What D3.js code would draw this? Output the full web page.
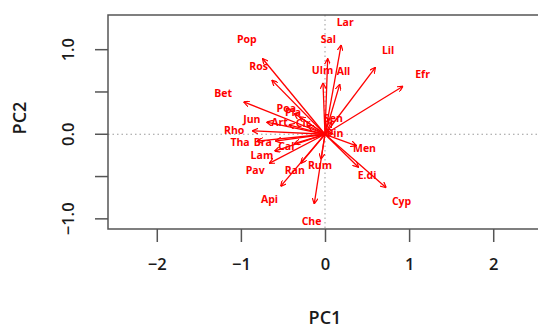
<!DOCTYPE html>
<html>
<head>
<meta charset="utf-8">
<script src="https://cdn.jsdelivr.net/npm/d3@7"></script>
<style>
  body { margin: 0; background: #fff; }
  svg { display: block; }
  text { font-family: "Open Sans", sans-serif; }
</style>
</head>
<body>
<svg id="chart"></svg>
<script>
// variable loadings (label positions, in PC units); arrows drawn at 0.8 like R biplot
const varNames = ['Pop', 'Ros', 'Bet', 'Jun', 'Art', 'Rho', 'Tha', 'Bra', 'Lam', 'Cal',
                  'Pav', 'Ran', 'Api', 'Che', 'Rum', 'Men', 'E.di', 'Cyp', 'Efr', 'Lil',
                  'Lar', 'Sal', 'Ulm', 'All', 'Sen', 'Pin', 'Cir', 'Poa', 'Pla'];
const pc1Load = [-0.93, -0.79, -1.21, -0.87, -0.54, -1.08, -1.01, -0.74, -0.75, -0.46,
                 -0.83, -0.36, -0.66, -0.16, -0.06, 0.47, 0.50, 0.91, 1.16, 0.75,
                 0.24, 0.04, -0.03, 0.22, 0.10, 0.12, -0.26, -0.46, -0.38];
const pc2Load = [1.12, 0.80, 0.48, 0.18, 0.14, 0.05, -0.10, -0.10, -0.25, -0.14,
                 -0.43, -0.43, -0.77, -1.03, -0.37, -0.17, -0.49, -0.79, 0.71, 0.99,
                 1.32, 1.12, 0.76, 0.74, 0.19, 0.01, 0.13, 0.31, 0.26];
const xTicks = [-2, -1, 0, 1, 2];
const yTicks = [-1.0, -0.5, 0.0, 0.5, 1.0];
const yTickLabels = ['\u22121.0', '', '0.0', '', '1.0'];

const width = 538, height = 329;
const plot = { left: 108, right: 542, top: 15, bottom: 229 };

const svg = d3.select('#chart')
    .attr('width', width)
    .attr('height', height);

const x = d3.scaleLinear().domain([-2.58, 2.58]).range([plot.left, plot.right]);
const y = d3.scaleLinear().domain([-1.12, 1.41]).range([plot.bottom, plot.top]);

// arrow head
svg.append('defs').append('marker')
    .attr('id', 'head')
    .attr('viewBox', '0 0 10 10')
    .attr('refX', 10).attr('refY', 5)
    .attr('markerWidth', 6).attr('markerHeight', 6)
    .attr('markerUnits', 'userSpaceOnUse')
    .attr('orient', 'auto')
  .append('path')
    .attr('d', 'M0,0 L10,5 L0,10')
    .attr('fill', 'none')
    .attr('stroke', '#ff0000')
    .attr('stroke-width', 2);

// zero reference lines
svg.append('line')
    .attr('x1', plot.left).attr('x2', plot.right)
    .attr('y1', y(0)).attr('y2', y(0))
    .attr('stroke', '#9a9a9a').attr('stroke-dasharray', '1.5,3');
svg.append('line')
    .attr('x1', x(0)).attr('x2', x(0))
    .attr('y1', plot.top).attr('y2', plot.bottom)
    .attr('stroke', '#9a9a9a').attr('stroke-dasharray', '1.5,3');

const vars = varNames.map((n, i) => ({ name: n, pc1: pc1Load[i], pc2: pc2Load[i] }));

svg.append('g').selectAll('line')
    .data(vars)
    .join('line')
    .attr('x1', x(0)).attr('y1', y(0))
    .attr('x2', d => x(d.pc1 * 0.8))
    .attr('y2', d => y(d.pc2 * 0.8))
    .attr('stroke', '#ff0000')
    .attr('stroke-width', 1.3)
    .attr('marker-end', 'url(#head)');

svg.append('g').selectAll('text')
    .data(vars)
    .join('text')
    .attr('x', d => x(d.pc1))
    .attr('y', d => y(d.pc2))
    .attr('dy', '0.35em')
    .attr('text-anchor', 'middle')
    .attr('fill', '#ff0000')
    .attr('font-size', 10.5)
    .attr('font-weight', 700)
    .text(d => d.name);

// box
svg.append('rect')
    .attr('x', plot.left).attr('y', plot.top)
    .attr('width', plot.right - plot.left)
    .attr('height', plot.bottom - plot.top)
    .attr('fill', 'none')
    .attr('stroke', '#555')
    .attr('stroke-width', 1.5);

// axes
const xAxis = d3.axisBottom(x).tickValues(xTicks).tickSize(13).tickPadding(16)
    .tickFormat(d => d < 0 ? '\u2212' + Math.abs(d) : d);
const xAxisG = svg.append('g')
    .attr('transform', `translate(0,${plot.bottom})`)
    .call(xAxis);

const yAxis = d3.axisLeft(y).tickValues(yTicks).tickSize(13).tickFormat((d, i) => yTickLabels[i]);
const yAxisG = svg.append('g')
    .attr('transform', `translate(${plot.left},0)`)
    .call(yAxis);

[xAxisG, yAxisG].forEach(g => {
    g.select('.domain').remove();
    g.selectAll('.tick line').attr('stroke', '#555').attr('stroke-width', 1.5);
    g.selectAll('.tick text').attr('fill', '#1a1a1a').attr('font-size', 16.5)
        .attr('font-weight', 600)
        .attr('font-family', '"Open Sans", sans-serif');
});

yAxisG.selectAll('.tick text')
    .attr('x', 0).attr('dy', 0)
    .attr('text-anchor', 'middle')
    .attr('transform', d => `translate(-38,${y(d)}) rotate(-90)`)
    .attr('y', 0)
    .attr('dominant-baseline', 'middle');
yAxisG.selectAll('.tick').attr('transform', 'translate(0,0)');
yAxisG.selectAll('.tick line').attr('y1', d => y(d)).attr('y2', d => y(d));

// titles
svg.append('text')
    .attr('x', x(0)).attr('y', 324)
    .attr('text-anchor', 'middle')
    .attr('fill', '#1a1a1a').attr('font-size', 18)
    .attr('font-weight', 600)
    .text('PC1');

svg.append('text')
    .attr('transform', 'translate(26,118) rotate(-90)')
    .attr('text-anchor', 'middle')
    .attr('fill', '#1a1a1a').attr('font-size', 18)
    .attr('font-weight', 600)
    .text('PC2');
</script>
</body>
</html>
